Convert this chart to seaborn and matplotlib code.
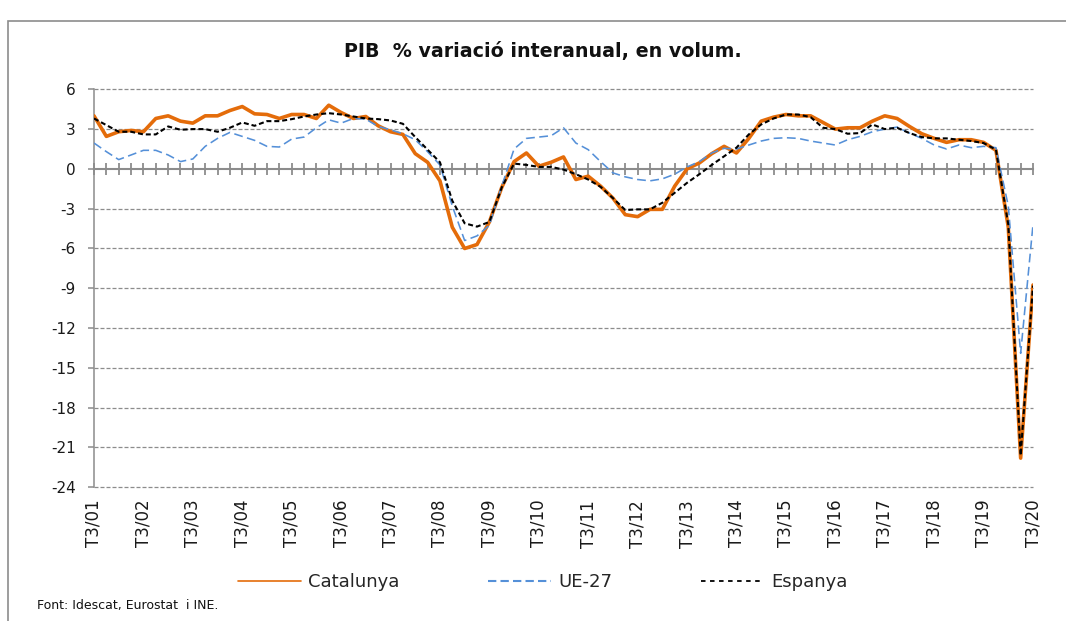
import numpy as np
import pandas as pd
import matplotlib
matplotlib.use("Agg")
import matplotlib.pyplot as plt
from matplotlib.lines import Line2D
from matplotlib.patches import Rectangle
import seaborn as sns

# ---------------- data ----------------
tick_labels = ["T3/01", "T3/02", "T3/03", "T3/04", "T3/05", "T3/06", "T3/07",
               "T3/08", "T3/09", "T3/10", "T3/11", "T3/12", "T3/13", "T3/14",
               "T3/15", "T3/16", "T3/17", "T3/18", "T3/19", "T3/20"]

catalunya = [4.0, 2.45, 2.8, 2.9, 2.8, 3.8, 4.0, 3.6, 3.45, 4.0, 4.0, 4.4, 4.7,
             4.15, 4.1, 3.8, 4.1, 4.1, 3.8, 4.8, 4.25, 3.8, 3.95, 3.25, 2.8, 2.6,
             1.15, 0.5, -0.9, -4.4, -6.0, -5.7, -4.0, -1.4, 0.55, 1.2, 0.2, 0.5,
             0.9, -0.8, -0.55, -1.3, -2.2, -3.45, -3.6, -3.05, -3.05, -1.3, 0.0,
             0.45, 1.15, 1.7, 1.2, 2.3, 3.6, 3.9, 4.1, 4.0, 4.0, 3.5, 3.0, 3.1,
             3.1, 3.6, 4.0, 3.8, 3.2, 2.65, 2.3, 2.0, 2.2, 2.2, 2.0, 1.4, -4.4,
             -21.8, -8.75]

ue27 = [1.95, 1.3, 0.7, 1.05, 1.4, 1.4, 1.05, 0.55, 0.75, 1.7, 2.3, 2.75, 2.45,
        2.15, 1.7, 1.65, 2.25, 2.4, 3.1, 3.7, 3.45, 3.8, 3.75, 3.2, 2.95, 2.65,
        2.2, 1.3, 0.3, -2.8, -5.4, -5.05, -4.25, -1.3, 1.5, 2.3, 2.4, 2.5, 3.1,
        1.95, 1.45, 0.55, -0.3, -0.6, -0.8, -0.9, -0.75, -0.4, 0.15, 0.55, 1.2,
        1.55, 1.5, 1.8, 2.1, 2.3, 2.35, 2.3, 2.1, 1.95, 1.8, 2.2, 2.45, 2.8,
        3.0, 3.15, 2.7, 2.3, 1.8, 1.5, 1.8, 1.6, 1.7, 1.6, -2.8, -13.9, -4.2]

espanya = [3.8, 3.3, 2.8, 2.8, 2.6, 2.6, 3.2, 2.95, 3.0, 3.0, 2.8, 3.1, 3.5,
           3.25, 3.6, 3.6, 3.75, 3.95, 4.1, 4.2, 4.1, 3.95, 3.8, 3.75, 3.65,
           3.4, 2.4, 1.45, 0.5, -2.4, -4.1, -4.35, -4.0, -1.4, 0.4, 0.3, 0.15,
           0.15, -0.05, -0.4, -0.8, -1.35, -2.2, -3.1, -3.05, -3.05, -2.55,
           -1.8, -1.05, -0.4, 0.3, 0.95, 1.6, 2.6, 3.35, 3.8, 4.1, 4.1, 3.9,
           3.1, 3.0, 2.65, 2.7, 3.35, 3.0, 3.1, 2.7, 2.4, 2.3, 2.3, 2.2, 2.1,
           1.95, 1.45, -4.2, -21.6, -8.8]

y_ticks = [6, 3, 0, -3, -6, -9, -12, -15, -18, -21, -24]

title = "PIB  % variació interanual, en volum."
source = "Font: Idescat, Eurostat  i INE."

# ---------------- styling ----------------
sns.set_style("white")
plt.rcParams["font.family"] = ["DejaVu Sans"]
plt.rcParams["axes.unicode_minus"] = False

ORANGE = "#E46C0A"
BLUE = "#5590D8"
BLACK = "#000000"
GRAY = "#8C8C8C"

W, H = 1066, 621
fig = plt.figure(figsize=(W / 100, H / 100), dpi=100)
ax = fig.add_axes([94 / W, 1 - 487.3 / H, (1033 - 94) / W, (487.3 - 89.3) / H])

n = len(catalunya)
df = pd.DataFrame({"q": np.arange(n), "Catalunya": catalunya,
                   "UE-27": ue27, "Espanya": espanya})

sns.lineplot(data=df, x="q", y="Catalunya", ax=ax, color=ORANGE, lw=2.6,
             errorbar=None, zorder=3, solid_joinstyle="round")
sns.lineplot(data=df, x="q", y="UE-27", ax=ax, color=BLUE, lw=1.15,
             errorbar=None, zorder=4, linestyle=(0, (5.5, 2.8)))
sns.lineplot(data=df, x="q", y="Espanya", ax=ax, color=BLACK, lw=1.5,
             errorbar=None, zorder=5, linestyle=(0, (2.4, 1.4)))

ax.set_xlim(0, n - 1)
ax.set_ylim(-24, 6)
ax.set_xlabel("")
ax.set_ylabel("")
ax.set_yticks(y_ticks)
ax.set_yticklabels([str(v) for v in y_ticks])
ax.grid(False)
for v in y_ticks:
    if v != 0:
        ax.axhline(v, color=GRAY, lw=0.9, linestyle=(0, (3.2, 1.6)),
                   zorder=1, clip_on=False)

for s in ["top", "right"]:
    ax.spines[s].set_visible(False)
ax.spines["left"].set_color(GRAY)
ax.spines["left"].set_linewidth(1.1)
ax.spines["bottom"].set_position(("data", 0))
ax.spines["bottom"].set_color(GRAY)
ax.spines["bottom"].set_linewidth(1.5)
ax.spines["bottom"].set_zorder(2.5)

ax.set_xticks(np.arange(n))
ax.tick_params(axis="x", bottom=True, direction="inout", length=9, width=1.3,
               color=GRAY, labelbottom=False)
ax.tick_params(axis="y", left=True, direction="out", length=4, width=1.1,
               color=GRAY, labelsize=11, pad=9, labelcolor="#1a1a1a")

sec = ax.secondary_xaxis("bottom")
sec.set_xticks(np.arange(0, n, 4))
sec.set_xticklabels(tick_labels, rotation=90, fontsize=12, color="#1a1a1a")
sec.tick_params(bottom=False, length=0, pad=9)
sec.spines["bottom"].set_visible(False)

fig.text(543 / W, 1 - 51 / H, title, ha="center", va="center",
         fontsize=13.7, fontweight="bold", color="#111111")

handles = [Line2D([], [], color=ORANGE, lw=1.2),
           Line2D([], [], color=BLUE, lw=1.5, linestyle=(0, (4, 2))),
           Line2D([], [], color=BLACK, lw=1.3, linestyle=(0, (2.5, 2.5)))]
fig.legend(handles, ["Catalunya", "UE-27", "Espanya"], loc="center",
           bbox_to_anchor=(543 / W, 1 - 582 / H), ncol=3, frameon=False,
           fontsize=13, handlelength=3.5, handletextpad=0.4,
           columnspacing=4.9)

fig.text(37 / W, 1 - 605 / H, source, ha="left", va="center", fontsize=9,
         color="#111111")

fig.add_artist(Rectangle((8 / W, -0.05), 1.2, 1 - 21 / H + 0.05,
                         transform=fig.transFigure, fill=False,
                         edgecolor=GRAY, lw=1.2, clip_on=False))

fig.savefig("out.png", dpi=100)
